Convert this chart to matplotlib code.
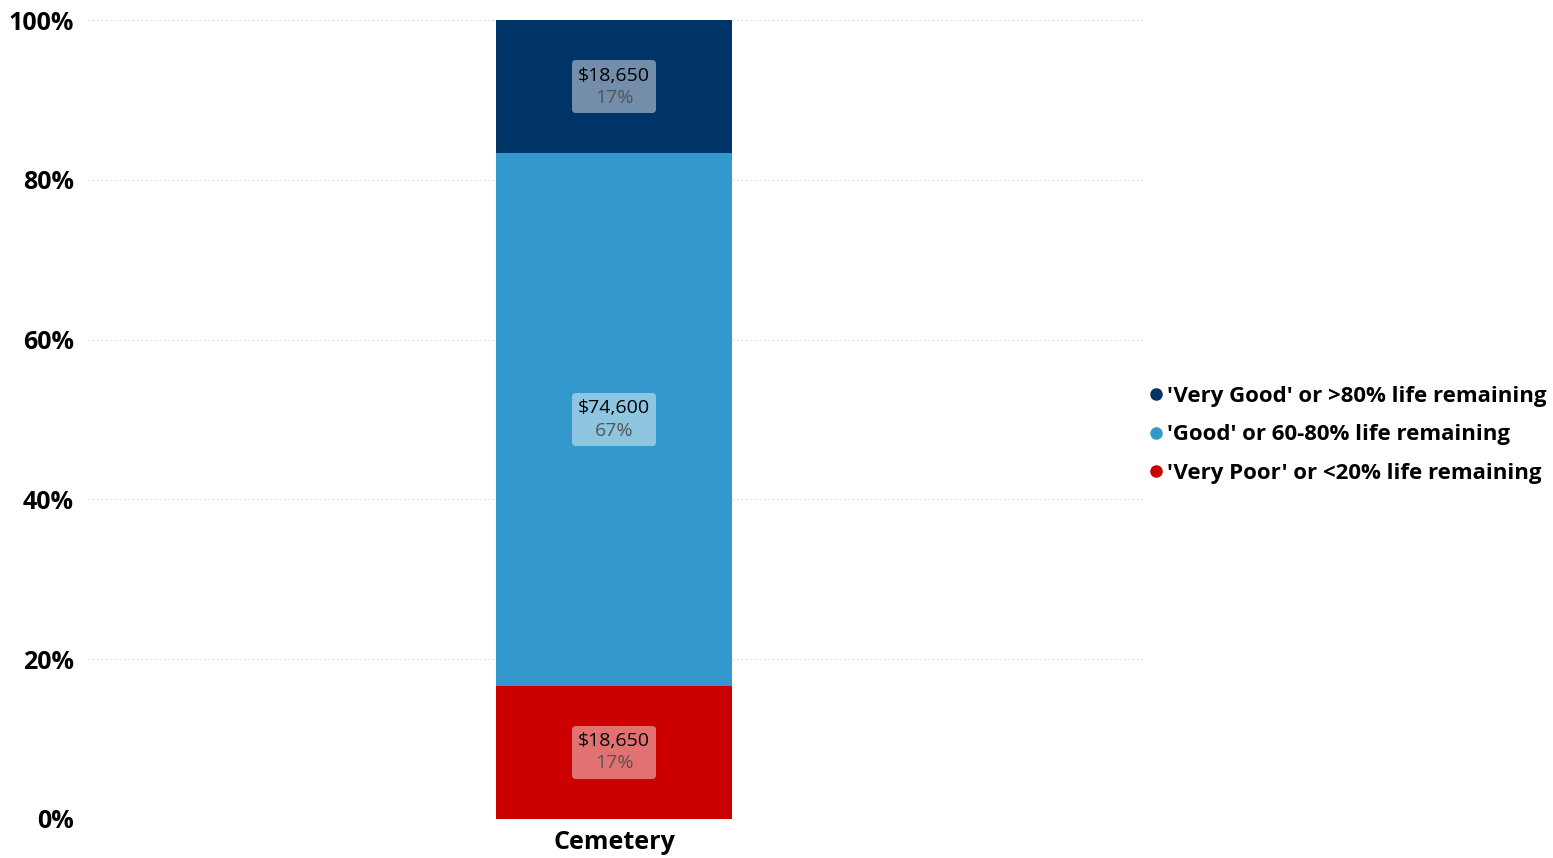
import numpy as np
import matplotlib.pyplot as plt
from matplotlib.lines import Line2D
from matplotlib.offsetbox import AnnotationBbox, TextArea, VPacker

plt.rcParams['font.family'] = ['Open Sans', 'DejaVu Sans']

category = 'Cemetery'
series = ["'Very Poor' or <20% life remaining",
          "'Good' or 60-80% life remaining",
          "'Very Good' or >80% life remaining"]
values = [18650, 74600, 18650]
colors = ['#CC0000', '#3399CC', '#003366']

total = sum(values)
shares = [v / total for v in values]

fig = plt.figure(figsize=(15.53, 8.58), dpi=100)
ax = fig.add_axes([88 / 1553, 1 - 819 / 858, 1057 / 1553, 799 / 858])

bottom = 0
for val, share, col in zip(values, shares, colors):
    ax.bar(0, share, width=1, bottom=bottom, color=col, zorder=3)
    mid = bottom + share / 2
    t1 = TextArea('${:,}'.format(val), textprops=dict(fontsize=14, color='black'))
    t2 = TextArea('{:.0%}'.format(share), textprops=dict(fontsize=14, color='#555555'))
    pack = VPacker(children=[t1, t2], align='center', pad=0, sep=3)
    ab = AnnotationBbox(pack, (0, mid), frameon=True, pad=0.45, zorder=5,
                        bboxprops=dict(boxstyle='round,pad=0.45,rounding_size=0.3',
                                       fc='white', ec='none', alpha=0.45))
    ax.add_artist(ab)
    bottom += share

ax.set_xlim(-2.23, 2.25)
ax.set_ylim(0, 1)
ax.set_yticks(np.arange(0, 1.01, 0.2))
ax.set_yticklabels(['{:.0%}'.format(t) for t in np.arange(0, 1.01, 0.2)],
                   fontsize=18, fontweight='bold')
ax.set_xticks([0])
ax.set_xticklabels([category], fontsize=18, fontweight='bold')
ax.tick_params(length=0, pad=10)
ax.tick_params(axis='x', pad=8)
ax.grid(axis='y', linestyle=(0, (1, 3)), color='#cccccc', linewidth=0.8, zorder=0)
for s in ax.spines.values():
    s.set_visible(False)

handles = [Line2D([], [], marker='o', linestyle='none', color=colors[i],
                  markersize=8, label=series[i]) for i in [2, 1, 0]]
fig.legend(handles=handles, loc='center left', bbox_to_anchor=(1134 / 1553, 1 - 435 / 858),
           frameon=False, handletextpad=0.0, handlelength=1, borderpad=0,
           prop={'size': 16, 'weight': 'bold'}, labelspacing=0.8)

plt.savefig('out.png', dpi=100)
